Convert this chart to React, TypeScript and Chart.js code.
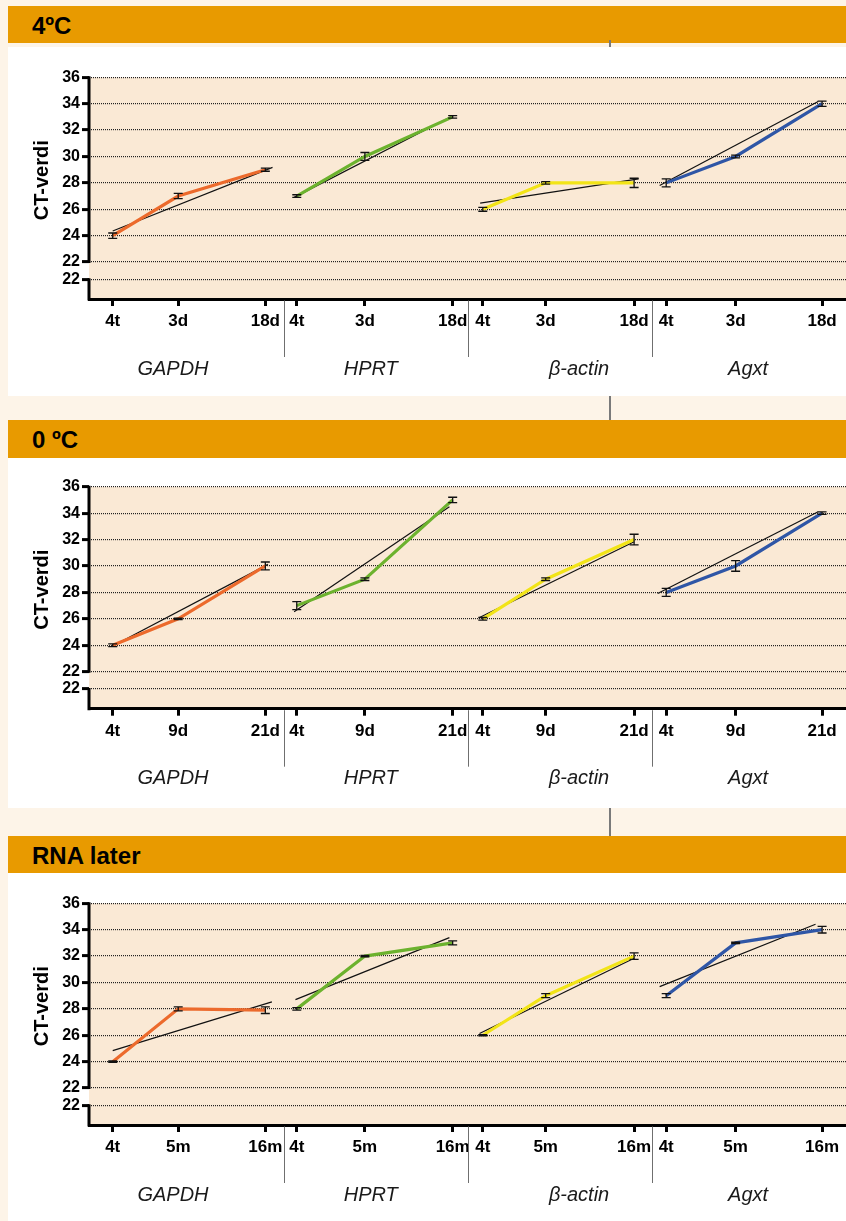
import React, { useEffect, useRef } from 'react';
import { Chart, registerables } from 'chart.js';

Chart.register(...registerables);

// ---------- data ----------
const GENES = ['GAPDH', 'HPRT', 'β-actin', 'Agxt'];
const GENE_COLORS = ['#ec6a2c', '#6cb22e', '#f2e417', '#2f56a6'];
const PANEL_TITLES = ['4ºC', '0 ºC', 'RNA later'];
const TIME_LABELS_4C = ['4t', '3d', '18d'];
const TIME_LABELS_0C = ['4t', '9d', '21d'];
const TIME_LABELS_RNA = ['4t', '5m', '16m'];
const X_POSITIONS = [0, 1, 2.33, 2.81, 3.85, 5.19, 5.65, 6.61, 7.96, 8.45, 9.51, 10.83];
const GROUP_SEPARATORS = [2.61, 5.43, 8.23];
const GROUP_LABEL_X = [0.92, 3.94, 7.12, 9.7];
const Y_TICK_VALUES = [20.7, 22, 24, 26, 28, 30, 32, 34, 36];
const Y_TICK_LABELS = ['22', '22', '24', '26', '28', '30', '32', '34', '36'];
const Y_MIN = 19.2;
const Y_MAX = 36;
const Y_BREAK_TOP = 22;
const Y_BREAK_BOTTOM = 20.7;
const X_MIN = -0.362;
const X_MAX = 11.195;
const Y_TITLE = 'CT-verdi';

const CT_4C = [24, 27, 29, 27, 30, 33, 26, 28, 28, 28, 30, 34];
const ERR_4C = [0.2, 0.2, 0.12, 0.1, 0.3, 0.1, 0.15, 0.1, 0.35, 0.3, 0.1, 0.2];
const TREND_4C_X0 = [0, 2.77, 5.61, 8.35];
const TREND_4C_X1 = [2.44, 5.2, 8.03, 10.77];
const TREND_4C_Y0 = [24.35, 26.9, 26.47, 27.8];
const TREND_4C_Y1 = [29.17, 33.1, 28.3, 34.16];

const CT_0C = [24, 26, 30, 27, 29, 35, 26, 29, 32, 28, 30, 34];
const ERR_0C = [0.1, 0.05, 0.3, 0.3, 0.1, 0.2, 0.1, 0.1, 0.4, 0.3, 0.4, 0.1];
const TREND_0C_X0 = [0, 2.77, 5.6, 8.32];
const TREND_0C_X1 = [2.37, 5.14, 7.96, 10.77];
const TREND_0C_Y0 = [23.95, 26.53, 26.1, 27.92];
const TREND_0C_Y1 = [30.12, 34.48, 31.83, 34.1];

const CT_RNA = [24, 28, 27.9, 28, 32, 33, 26, 29, 32, 29, 33, 34];
const ERR_RNA = [0.05, 0.15, 0.25, 0.1, 0.05, 0.15, 0.05, 0.15, 0.25, 0.15, 0.05, 0.25];
const TREND_RNA_X0 = [0, 2.79, 5.6, 8.35];
const TREND_RNA_X1 = [2.43, 5.14, 7.96, 10.73];
const TREND_RNA_Y0 = [24.84, 28.7, 26.13, 29.69];
const TREND_RNA_Y1 = [28.53, 33.4, 31.83, 34.41];

// ---------- layout / style ----------
const FONT = "'Liberation Sans', Arial, Helvetica, sans-serif";
const PAGE_BG = '#fdf4e8';
const PLOT_BG = '#fae9d5';
const HEADER_BG = '#e89a00';
const CANVAS_W = 838;

const PANELS = [
  {
    title: PANEL_TITLES[0], labels: TIME_LABELS_4C, ct: CT_4C, err: ERR_4C,
    tx0: TREND_4C_X0, tx1: TREND_4C_X1, ty0: TREND_4C_Y0, ty1: TREND_4C_Y1,
    headerTop: 6, headerH: 37, top: 47, height: 349, plotTop: 77.3, plotBottom: 299,
  },
  {
    title: PANEL_TITLES[1], labels: TIME_LABELS_0C, ct: CT_0C, err: ERR_0C,
    tx0: TREND_0C_X0, tx1: TREND_0C_X1, ty0: TREND_0C_Y0, ty1: TREND_0C_Y1,
    headerTop: 420, headerH: 38, top: 458, height: 350, plotTop: 486.7, plotBottom: 708.7,
  },
  {
    title: PANEL_TITLES[2], labels: TIME_LABELS_RNA, ct: CT_RNA, err: ERR_RNA,
    tx0: TREND_RNA_X0, tx1: TREND_RNA_X1, ty0: TREND_RNA_Y0, ty1: TREND_RNA_Y1,
    headerTop: 836, headerH: 37, top: 873, height: 348, plotTop: 903.3, plotBottom: 1125,
  },
];

const bgPlugin = {
  id: 'plotBg',
  beforeDraw(chart: any) {
    const { ctx, chartArea: a } = chart;
    ctx.save();
    ctx.fillStyle = PLOT_BG;
    ctx.fillRect(a.left, a.top, a.right - a.left, a.bottom - a.top);
    ctx.restore();
  },
};

function PanelChart({ idx }: { idx: number }) {
  const ref = useRef<HTMLCanvasElement>(null);
  const p = PANELS[idx];
  useEffect(() => {
    const padTop = p.plotTop - p.top;
    const plotH = p.plotBottom - p.plotTop;
    const xAxisH = p.height - padTop - plotH;
    const tickLabels = [...p.labels, ...p.labels, ...p.labels, ...p.labels];

    const datasets: any[] = [];
    GENES.forEach((g, gi) => {
      datasets.push({
        label: g,
        data: [0, 1, 2].map((k) => ({ x: X_POSITIONS[gi * 3 + k], y: p.ct[gi * 3 + k] })),
        borderColor: GENE_COLORS[gi],
        borderWidth: 3.2,
        pointRadius: 0,
        tension: 0,
        order: 0,
      });
      datasets.push({
        label: g + ' trend',
        data: [
          { x: p.tx0[gi], y: p.ty0[gi] },
          { x: p.tx1[gi], y: p.ty1[gi] },
        ],
        borderColor: '#111',
        borderWidth: 1.2,
        pointRadius: 0,
        order: 1,
      });
    });

    const extras = {
      id: 'extras',
      afterDatasetsDraw(chart: any) {
        const { ctx } = chart;
        const xs = chart.scales.x;
        const ys = chart.scales.y;
        ctx.save();
        ctx.strokeStyle = '#111';
        ctx.lineWidth = 1.3;
        X_POSITIONS.forEach((xv, i) => {
          const x = xs.getPixelForValue(xv);
          const yt = ys.getPixelForValue(p.ct[i] + p.err[i]);
          const yb = ys.getPixelForValue(p.ct[i] - p.err[i]);
          ctx.beginPath();
          ctx.moveTo(x, yt);
          ctx.lineTo(x, yb);
          ctx.moveTo(x - 4.5, yt);
          ctx.lineTo(x + 4.5, yt);
          ctx.moveTo(x - 4.5, yb);
          ctx.lineTo(x + 4.5, yb);
          ctx.stroke();
        });
        ctx.restore();
      },
      afterDraw(chart: any) {
        const { ctx, chartArea: a } = chart;
        const xs = chart.scales.x;
        const ys = chart.scales.y;
        ctx.save();
        // broken y axis
        ctx.strokeStyle = '#000';
        ctx.lineWidth = 3;
        ctx.beginPath();
        ctx.moveTo(a.left, a.top - 1);
        ctx.lineTo(a.left, ys.getPixelForValue(Y_BREAK_TOP) + 1);
        ctx.moveTo(a.left, ys.getPixelForValue(Y_BREAK_BOTTOM) - 1);
        ctx.lineTo(a.left, a.bottom + 1.5);
        ctx.stroke();
        // group separators
        ctx.strokeStyle = '#6f6f6f';
        ctx.lineWidth = 1;
        GROUP_SEPARATORS.forEach((v) => {
          const x = Math.round(xs.getPixelForValue(v)) + 0.5;
          ctx.beginPath();
          ctx.moveTo(x, a.bottom + 1.5);
          ctx.lineTo(x, a.bottom + 58);
          ctx.stroke();
        });
        // group labels
        ctx.fillStyle = '#1a1a1a';
        ctx.font = 'italic 20px ' + FONT;
        ctx.textAlign = 'center';
        ctx.textBaseline = 'alphabetic';
        GENES.forEach((g, gi) => {
          ctx.fillText(g, xs.getPixelForValue(GROUP_LABEL_X[gi]), a.bottom + 75.5);
        });
        // y title
        ctx.translate(34.5, a.top + 103);
        ctx.rotate(-Math.PI / 2);
        ctx.font = 'bold 20px ' + FONT;
        ctx.fillStyle = '#000';
        ctx.textAlign = 'center';
        ctx.textBaseline = 'middle';
        ctx.fillText(Y_TITLE, 0, 0);
        ctx.restore();
      },
    };

    const chart = new Chart(ref.current as HTMLCanvasElement, {
      type: 'line',
      data: { datasets },
      options: {
        animation: false,
        responsive: false,
        events: [],
        layout: { padding: { top: padTop, left: 0, right: 0, bottom: 0 } },
        plugins: { legend: { display: false }, tooltip: { enabled: false } },
        scales: {
          x: {
            type: 'linear',
            min: X_MIN,
            max: X_MAX,
            afterBuildTicks: (scale: any) => {
              scale.ticks = X_POSITIONS.map((v) => ({ value: v }));
            },
            afterFit: (scale: any) => {
              scale.height = xAxisH;
            },
            ticks: {
              autoSkip: false,
              maxRotation: 0,
              minRotation: 0,
              padding: 5,
              color: '#000',
              font: { family: FONT, size: 17, weight: 'bold' },
              callback: (_v: any, i: number) => tickLabels[i],
            },
            grid: {
              drawOnChartArea: false,
              drawTicks: true,
              tickLength: 7,
              tickWidth: 3,
              tickColor: '#000',
              color: '#000',
            },
            border: { display: true, width: 3, color: '#000' },
          },
          y: {
            type: 'linear',
            min: Y_MIN,
            max: Y_MAX,
            afterBuildTicks: (scale: any) => {
              scale.ticks = Y_TICK_VALUES.map((v) => ({ value: v }));
            },
            afterFit: (scale: any) => {
              scale.width = 81;
            },
            ticks: {
              autoSkip: false,
              padding: 2,
              color: '#000',
              font: { family: FONT, size: 16, weight: 'bold' },
              callback: (_v: any, i: number) => Y_TICK_LABELS[i],
            },
            grid: {
              drawOnChartArea: true,
              drawTicks: true,
              tickLength: 7,
              tickWidth: 3,
              tickColor: '#000',
              color: '#222',
              lineWidth: 1.2,
            },
            border: { display: false, dash: [1, 1] },
          },
        },
      } as any,
      plugins: [bgPlugin, extras],
    });
    return () => chart.destroy();
  }, []);
  return (
    <canvas
      ref={ref}
      width={CANVAS_W}
      height={p.height}
      style={{ display: 'block', width: CANVAS_W, height: p.height }}
    />
  );
}

export default function App() {
  return (
    <div
      style={{
        position: 'absolute',
        left: 0,
        top: 0,
        width: 846,
        height: 1221,
        overflow: 'hidden',
        background: PAGE_BG,
        fontFamily: FONT,
      }}
    >
      {PANELS.map((p, i) => (
        <React.Fragment key={i}>
          <div
            style={{
              position: 'absolute',
              left: 8,
              top: p.headerTop,
              width: 838,
              height: p.headerH,
              background: HEADER_BG,
            }}
          >
            <span
              style={{
                position: 'absolute',
                left: 24,
                top: 28.5 - 20.5,
                fontSize: 24,
                lineHeight: '24px',
                fontWeight: 'bold',
                color: '#000',
                whiteSpace: 'pre',
              }}
            >
              {p.title}
            </span>
          </div>
          <div
            style={{
              position: 'absolute',
              left: 8,
              top: p.top,
              width: 838,
              height: p.height,
              background: '#fff',
            }}
          >
            <PanelChart idx={i} />
          </div>
        </React.Fragment>
      ))}
      <div style={{ position: 'absolute', left: 609, top: 396, width: 2, height: 24, background: '#7a7a7a' }} />
      <div style={{ position: 'absolute', left: 609, top: 808, width: 2, height: 28, background: '#7a7a7a' }} />
      <div style={{ position: 'absolute', left: 609, top: 40, width: 2, height: 7, background: '#7a7a7a' }} />
    </div>
  );
}
